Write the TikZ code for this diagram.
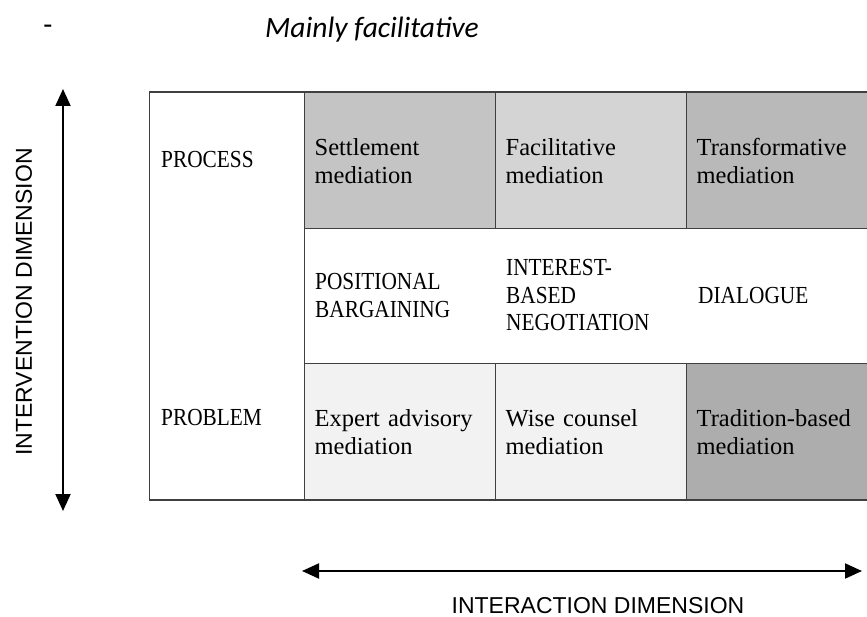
\documentclass[tikz,border=0pt]{standalone}
\usepackage{fontspec}
\setmainfont{Liberation Serif}
\newfontfamily\capsfont[FakeStretch=0.87]{Liberation Serif}
\newfontfamily\labfont{Liberation Sans}
\newfontfamily\calfont{Carlito}
\usetikzlibrary{arrows.meta}
\definecolor{gSettle}{HTML}{C4C4C4}
\definecolor{gFacil}{HTML}{D4D4D4}
\definecolor{gTrans}{HTML}{B9B9B9}
\definecolor{gLight}{HTML}{F2F2F2}
\definecolor{gTrad}{HTML}{ADADAD}
\definecolor{bord}{HTML}{404040}
\tikzset{
  cell/.style={draw=bord, line width=1.3pt, rectangle, anchor=north west,
    inner xsep=10pt, inner ysep=0pt, align=left,
    font=\fontsize{24.5}{28}\selectfont},
  capstxt/.style={anchor=west, inner sep=0pt, align=left,
    font=\capsfont\fontsize{24.5}{27.5}\selectfont},
  dimlabel/.style={font=\labfont\fontsize{23}{26}\selectfont, inner sep=0pt},
  dimarrow/.style={line width=2pt, {Triangle[length=17pt,width=15pt]}-{Triangle[length=17pt,width=15pt]}}
}
\begin{document}
\begin{tikzpicture}[x=1pt,y=-1pt]
\useasboundingbox[fill=white] (0,0) rectangle (867,617);

% title
\node[font=\calfont\fontsize{29.5}{34}\selectfont, inner sep=0pt] (dash) at (48,30) {-};
\node[font=\calfont\itshape\fontsize{29.5}{34}\selectfont, inner sep=0pt, anchor=west] (title) at (265,30) {Mainly facilitative};

% left column
\node[cell, minimum width=155pt, minimum height=407pt] (left) at (149,92) {};
\node[capstxt] (process) at (161,160) {PROCESS};
\node[capstxt] (problem) at (161,418) {PROBLEM};

% top row
\node[cell, fill=gSettle, minimum width=191pt, minimum height=136pt, text width=171pt] (settle) at (304,92) {Settlement\\mediation};
\node[cell, fill=gFacil, minimum width=191pt, minimum height=136pt, text width=171pt] (facil) at (495,92) {Facilitative\\mediation};
\node[cell, fill=gTrans, minimum width=184pt, minimum height=136pt, text width=164pt] (trans) at (686,92) {Transformative\\mediation};

% middle row
\node[cell, minimum width=566pt, minimum height=135pt] (mid) at (304,228) {};
\node[capstxt] (posit) at (315,295.5) {POSITIONAL\\BARGAINING};
\node[capstxt] (inter) at (506,295.5) {INTEREST-\\BASED\\NEGOTIATION};
\node[capstxt] (dial) at (698,295.5) {DIALOGUE};

% bottom row
\node[cell, fill=gLight, minimum width=191pt, minimum height=136pt, text width=171pt] (expert) at (304,363) {Expert advisory\\mediation};
\node[cell, fill=gLight, minimum width=191pt, minimum height=136pt, text width=171pt] (wise) at (495,363) {Wise counsel\\mediation};
\node[cell, fill=gTrad, minimum width=184pt, minimum height=136pt, text width=164pt] (trad) at (686,363) {Tradition-based\\mediation};

% redraw outer lines on top
\draw[bord, line width=1.3pt] (left.north west) -- (trans.north east);
\draw[bord, line width=1.3pt] (left.south west) -- (trad.south east);

% vertical dimension
\coordinate (vtop) at (63,89);
\coordinate (vbot) at (63,511);
\draw[dimarrow] (vtop) -- (vbot);
\node[dimlabel, rotate=90] (vlab) at (24,302) {INTERVENTION DIMENSION};

% horizontal dimension
\coordinate (hleft) at (302,571);
\coordinate (hright) at (862,571);
\draw[dimarrow] (hleft) -- (hright);
\node[dimlabel] (hlab) at (598,606) {INTERACTION DIMENSION};
\end{tikzpicture}
\end{document}
